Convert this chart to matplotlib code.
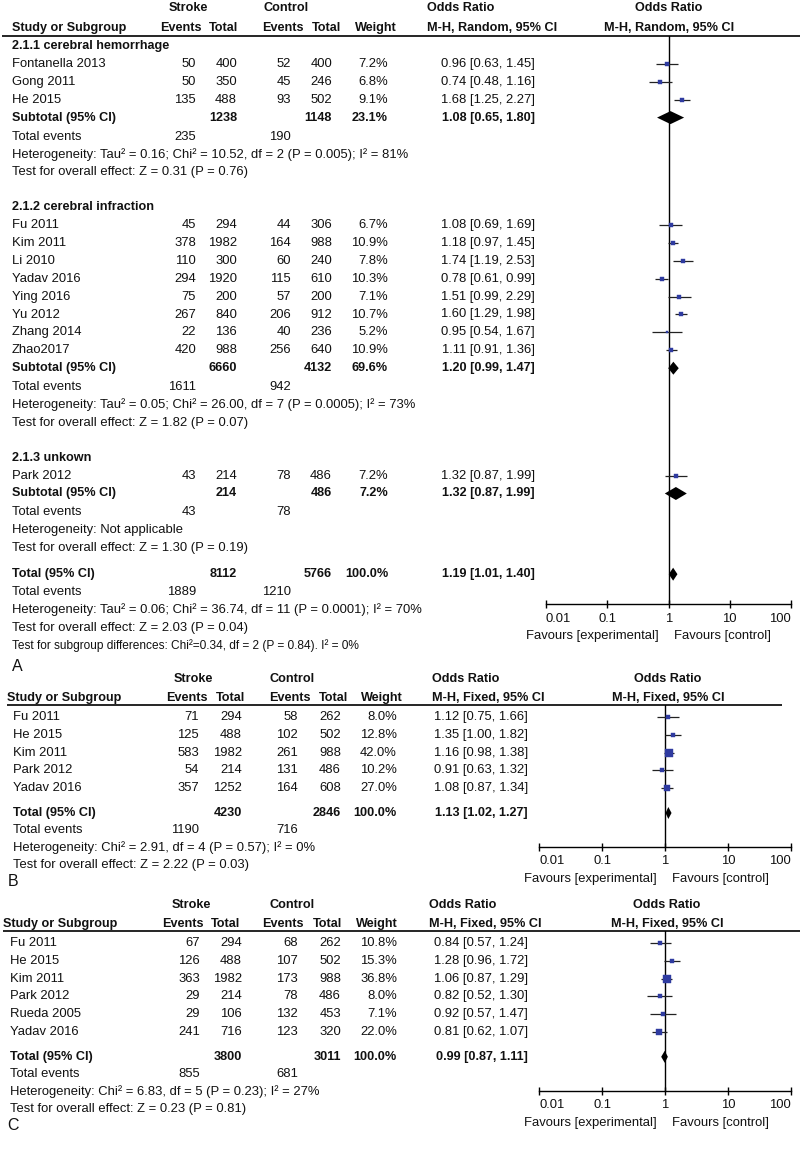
import matplotlib
matplotlib.use('Agg')
import matplotlib.pyplot as plt
from matplotlib.ticker import NullLocator

plt.rcParams['font.family'] = ['Liberation Sans', 'DejaVu Sans']

W, H = 800, 1153

# ---------------- Panel A data ----------------
a_groups = ['2.1.1 cerebral hemorrhage', '2.1.2 cerebral infraction', '2.1.3 unkown']
a_names = [['Fontanella 2013', 'Gong 2011', 'He 2015'],
           ['Fu 2011', 'Kim 2011', 'Li 2010', 'Yadav 2016', 'Ying 2016', 'Yu 2012', 'Zhang 2014', 'Zhao2017'],
           ['Park 2012']]
a_ev1 = [[50, 50, 135], [45, 378, 110, 294, 75, 267, 22, 420], [43]]
a_n1 = [[400, 350, 488], [294, 1982, 300, 1920, 200, 840, 136, 988], [214]]
a_ev2 = [[52, 45, 93], [44, 164, 60, 115, 57, 206, 40, 256], [78]]
a_n2 = [[400, 246, 502], [306, 988, 240, 610, 200, 912, 236, 640], [486]]
a_w = [[7.2, 6.8, 9.1], [6.7, 10.9, 7.8, 10.3, 7.1, 10.7, 5.2, 10.9], [7.2]]
a_or = [[0.96, 0.74, 1.68], [1.08, 1.18, 1.74, 0.78, 1.51, 1.60, 0.95, 1.11], [1.32]]
a_lo = [[0.63, 0.48, 1.25], [0.69, 0.97, 1.19, 0.61, 0.99, 1.29, 0.54, 0.91], [0.87]]
a_hi = [[1.45, 1.16, 2.27], [1.69, 1.45, 2.53, 0.99, 2.29, 1.98, 1.67, 1.36], [1.99]]
a_sub_n1 = [1238, 6660, 214]
a_sub_n2 = [1148, 4132, 486]
a_sub_w = [23.1, 69.6, 7.2]
a_sub_or = [1.08, 1.20, 1.32]
a_sub_lo = [0.65, 0.99, 0.87]
a_sub_hi = [1.80, 1.47, 1.99]
a_sub_ev1 = [235, 1611, 43]
a_sub_ev2 = [190, 942, 78]
a_het = ['Heterogeneity: Tau\u00b2 = 0.16; Chi\u00b2 = 10.52, df = 2 (P = 0.005); I\u00b2 = 81%',
         'Heterogeneity: Tau\u00b2 = 0.05; Chi\u00b2 = 26.00, df = 7 (P = 0.0005); I\u00b2 = 73%',
         'Heterogeneity: Not applicable']
a_test = ['Test for overall effect: Z = 0.31 (P = 0.76)',
          'Test for overall effect: Z = 1.82 (P = 0.07)',
          'Test for overall effect: Z = 1.30 (P = 0.19)']
a_total = [8112, 5766, 100.0, 1.19, 1.01, 1.40, 1889, 1210]
a_total_het = 'Heterogeneity: Tau\u00b2 = 0.06; Chi\u00b2 = 36.74, df = 11 (P = 0.0001); I\u00b2 = 70%'
a_total_test = 'Test for overall effect: Z = 2.03 (P = 0.04)'
a_subgroup_test = 'Test for subgroup differences: Chi\u00b2=0.34, df = 2 (P = 0.84). I\u00b2 = 0%'

# ---------------- Panel B data ----------------
b_names = ['Fu 2011', 'He 2015', 'Kim 2011', 'Park 2012', 'Yadav 2016']
b_ev1 = [71, 125, 583, 54, 357]
b_n1 = [294, 488, 1982, 214, 1252]
b_ev2 = [58, 102, 261, 131, 164]
b_n2 = [262, 502, 988, 486, 608]
b_w = [8.0, 12.8, 42.0, 10.2, 27.0]
b_or = [1.12, 1.35, 1.16, 0.91, 1.08]
b_lo = [0.75, 1.00, 0.98, 0.63, 0.87]
b_hi = [1.66, 1.82, 1.38, 1.32, 1.34]
b_total = [4230, 2846, 100.0, 1.13, 1.02, 1.27, 1190, 716]
b_het = 'Heterogeneity: Chi\u00b2 = 2.91, df = 4 (P = 0.57); I\u00b2 = 0%'
b_test = 'Test for overall effect: Z = 2.22 (P = 0.03)'

# ---------------- Panel C data ----------------
c_names = ['Fu 2011', 'He 2015', 'Kim 2011', 'Park 2012', 'Rueda 2005', 'Yadav 2016']
c_ev1 = [67, 126, 363, 29, 29, 241]
c_n1 = [294, 488, 1982, 214, 106, 716]
c_ev2 = [68, 107, 173, 78, 132, 123]
c_n2 = [262, 502, 988, 486, 453, 320]
c_w = [10.8, 15.3, 36.8, 8.0, 7.1, 22.0]
c_or = [0.84, 1.28, 1.06, 0.82, 0.92, 0.81]
c_lo = [0.57, 0.96, 0.87, 0.52, 0.57, 0.62]
c_hi = [1.24, 1.72, 1.29, 1.30, 1.47, 1.07]
c_total = [3800, 3011, 100.0, 0.99, 0.87, 1.11, 855, 681]
c_het = 'Heterogeneity: Chi\u00b2 = 6.83, df = 5 (P = 0.23); I\u00b2 = 27%'
c_test = 'Test for overall effect: Z = 0.23 (P = 0.81)'

tick_vals = [0.01, 0.1, 1, 10, 100]
tick_labels = ['0.01', '0.1', '1', '10', '100']

FS = 9.4
FSB = 9.1
TXT = '#111111'
BLUE = '#2f3ba0'

fig = plt.figure(figsize=(W / 100, H / 100), dpi=100)
bg = fig.add_axes([0, 0, 1, 1])
bg.set_xlim(0, W)
bg.set_ylim(H, 0)
bg.axis('off')


def put(x, y, s, ha='left', bold=False, size=None):
    bg.text(x, y, s, ha=ha, va='center', color=TXT,
            fontsize=size or (FSB if bold else FS),
            fontweight='bold' if bold else 'normal')


def fmt_ci(o, lo, hi):
    return f'{o:.2f} [{lo:.2f}, {hi:.2f}]'


def header(cols, y1, y2, rule_y, rule_x, method, hx):
    put(cols['stroke'], y1, 'Stroke', ha='center', bold=True)
    put(cols['control'], y1, 'Control', ha='center', bold=True)
    put(cols['or'], y1, 'Odds Ratio', bold=True)
    put(cols['or2'], y1, 'Odds Ratio', ha='center', bold=True)
    put(hx, y2, 'Study or Subgroup', bold=True)
    put(cols['h_ev1'], y2, 'Events', ha='right', bold=True)
    put(cols['h_n1'], y2, 'Total', ha='right', bold=True)
    put(cols['h_ev2'], y2, 'Events', ha='right', bold=True)
    put(cols['h_n2'], y2, 'Total', ha='right', bold=True)
    put(cols['h_w'], y2, 'Weight', ha='right', bold=True)
    put(cols['or'], y2, 'M-H, ' + method + ', 95% CI', bold=True)
    put(cols['or2'], y2, 'M-H, ' + method + ', 95% CI', ha='center', bold=True)
    bg.plot(rule_x, [rule_y, rule_y], color='black', lw=1.2, solid_capstyle='butt')


def study_row(cols, y, name, e1, n1, e2, n2, w, o, lo, hi, bold=False):
    put(cols['name'], y, name, bold=bold)
    if e1 is not None:
        put(cols['ev1'], y, str(e1), ha='right', bold=bold)
    put(cols['n1'], y, str(n1), ha='right', bold=bold)
    if e2 is not None:
        put(cols['ev2'], y, str(e2), ha='right', bold=bold)
    put(cols['n2'], y, str(n2), ha='right', bold=bold)
    put(cols['w'], y, f'{w:.1f}%', ha='right', bold=bold)
    put(cols['ci'], y, fmt_ci(o, lo, hi), ha='right', bold=bold)


def events_row(cols, y, e1, e2):
    put(cols['name'], y, 'Total events')
    put(cols['ev1'], y, str(e1), ha='right')
    put(cols['ev2'], y, str(e2), ha='right')


def forest(x0, x1, ytop, yaxis, ys, ors, los, his, ws, dys, dors, dlos, dhis, dh):
    ax = fig.add_axes([x0 / W, 1 - yaxis / H, (x1 - x0) / W, (yaxis - ytop) / H])
    ax.set_xscale('log')
    ax.set_xlim(0.01, 100)
    ax.set_ylim(yaxis, ytop)
    ax.patch.set_visible(False)
    for s in ['top', 'left', 'right']:
        ax.spines[s].set_visible(False)
    ax.spines['bottom'].set_linewidth(1.0)
    ax.axvline(1, color='black', lw=1.0)
    ax.hlines(ys, los, his, color='#222222', lw=0.9)
    for y, o, w in zip(ys, ors, ws):
        side = 1.25 * w ** 0.5
        ax.plot(o, y, 's', ms=side * 0.72, color=BLUE, mec=BLUE, mew=0.3)
    for y, o, lo, hi in zip(dys, dors, dlos, dhis):
        ax.fill([lo, o, hi, o], [y, y - dh / 2, y, y + dh / 2], color='black', lw=0)
    ax.set_xticks(tick_vals)
    ax.set_xticklabels(tick_labels)
    ax.xaxis.set_minor_locator(NullLocator())
    ax.set_yticks([])
    ax.tick_params(axis='x', direction='inout', length=6, width=1.0, labelsize=FS, pad=3,
                   labelcolor=TXT)
    labels = ax.get_xticklabels()
    labels[0].set_horizontalalignment('left')
    labels[-1].set_horizontalalignment('right')
    return ax


STEP = 17.9

# ================= Panel A =================
cols_a = dict(name=12, ev1=196, n1=237, ev2=291, n2=332, w=388, ci=535,
              stroke=188, control=286, h_ev1=202, h_n1=238, h_ev2=304, h_n2=341, h_w=397,
              **{'or': 427, 'or2': 669})
header(cols_a, 8, 28, 36, [2, 800], 'Random', 12)

ys_a, ors_a, los_a, his_a, ws_a = [], [], [], [], []
dys_a, dors_a, dlos_a, dhis_a = [], [], [], []
y = 46
for g in range(len(a_groups)):
    put(12, y, a_groups[g], bold=True)
    y += STEP
    for i in range(len(a_names[g])):
        study_row(cols_a, y, a_names[g][i], a_ev1[g][i], a_n1[g][i], a_ev2[g][i],
                  a_n2[g][i], a_w[g][i], a_or[g][i], a_lo[g][i], a_hi[g][i])
        ys_a.append(y)
        ors_a.append(a_or[g][i])
        los_a.append(a_lo[g][i])
        his_a.append(a_hi[g][i])
        ws_a.append(a_w[g][i])
        y += STEP
    study_row(cols_a, y, 'Subtotal (95% CI)', None, a_sub_n1[g], None, a_sub_n2[g],
              a_sub_w[g], a_sub_or[g], a_sub_lo[g], a_sub_hi[g], bold=True)
    dys_a.append(y)
    dors_a.append(a_sub_or[g])
    dlos_a.append(a_sub_lo[g])
    dhis_a.append(a_sub_hi[g])
    y += STEP + 1
    events_row(cols_a, y, a_sub_ev1[g], a_sub_ev2[g])
    y += STEP
    put(12, y, a_het[g])
    y += STEP
    put(12, y, a_test[g])
    y += 2 * STEP - 1

y = y - 2 * STEP + 1 + 26
study_row(cols_a, y, 'Total (95% CI)', None, a_total[0], None, a_total[1],
          a_total[2], a_total[3], a_total[4], a_total[5], bold=True)
dys_a.append(y)
dors_a.append(a_total[3])
dlos_a.append(a_total[4])
dhis_a.append(a_total[5])
axis_a = y + 30
y += STEP
events_row(cols_a, y, a_total[6], a_total[7])
y += STEP
put(12, y, a_total_het)
y += STEP
put(12, y, a_total_test)
y += STEP
put(12, y, a_subgroup_test, size=8.6)
put(12, y + 21, 'A', size=11.5)

forest(546, 791, 36, axis_a, ys_a, ors_a, los_a, his_a, ws_a,
       dys_a, dors_a, dlos_a, dhis_a, 13)
put(659, axis_a + 32, 'Favours [experimental]', ha='right')
put(674, axis_a + 32, 'Favours [control]')


# ================= Panels B and C =================
def simple_panel(cols, hx, rule_x, y1, names, e1, n1, e2, n2, w, o, lo, hi, total, het, test,
                 label, label_x):
    y2 = y1 + 19
    rule_y = y2 + 7
    header(cols, y1, y2, rule_y, rule_x, 'Fixed', hx)
    y = rule_y + 12
    ys = []
    for i in range(len(names)):
        study_row(cols, y, names[i], e1[i], n1[i], e2[i], n2[i], w[i], o[i], lo[i], hi[i])
        ys.append(y)
        y += 17.8
    y += 7
    study_row(cols, y, 'Total (95% CI)', None, total[0], None, total[1],
              total[2], total[3], total[4], total[5], bold=True)
    ytot = y
    axis_y = y + 34
    y += 17.5
    events_row(cols, y, total[6], total[7])
    y += 17.5
    put(cols['name'], y, het)
    y += 17.5
    put(cols['name'], y, test)
    put(label_x, y + 16, label, size=11.5)
    forest(539, 791, rule_y, axis_y, ys, o, lo, hi, w, [ytot], [total[3]], [total[4]],
           [total[5]], 12)
    put(657, axis_y + 32, 'Favours [experimental]', ha='right')
    put(672, axis_y + 32, 'Favours [control]')


cols_b = dict(name=13, ev1=199, n1=242, ev2=298, n2=341, w=397, ci=528,
              stroke=193, control=292, h_ev1=208, h_n1=245, h_ev2=311, h_n2=348, h_w=403,
              **{'or': 432, 'or2': 668})
simple_panel(cols_b, 7, [7, 782], 679, b_names, b_ev1, b_n1, b_ev2, b_n2, b_w, b_or, b_lo,
             b_hi, b_total, b_het, b_test, 'B', 8)

cols_c = dict(name=10, ev1=200, n1=242, ev2=298, n2=341, w=397, ci=528,
              stroke=191, control=292, h_ev1=204, h_n1=240, h_ev2=304, h_n2=342, h_w=398,
              **{'or': 429, 'or2': 667})
simple_panel(cols_c, 3, [3, 800], 905, c_names, c_ev1, c_n1, c_ev2, c_n2, c_w, c_or, c_lo,
             c_hi, c_total, c_het, c_test, 'C', 7)

fig.savefig('out.png', dpi=100)
